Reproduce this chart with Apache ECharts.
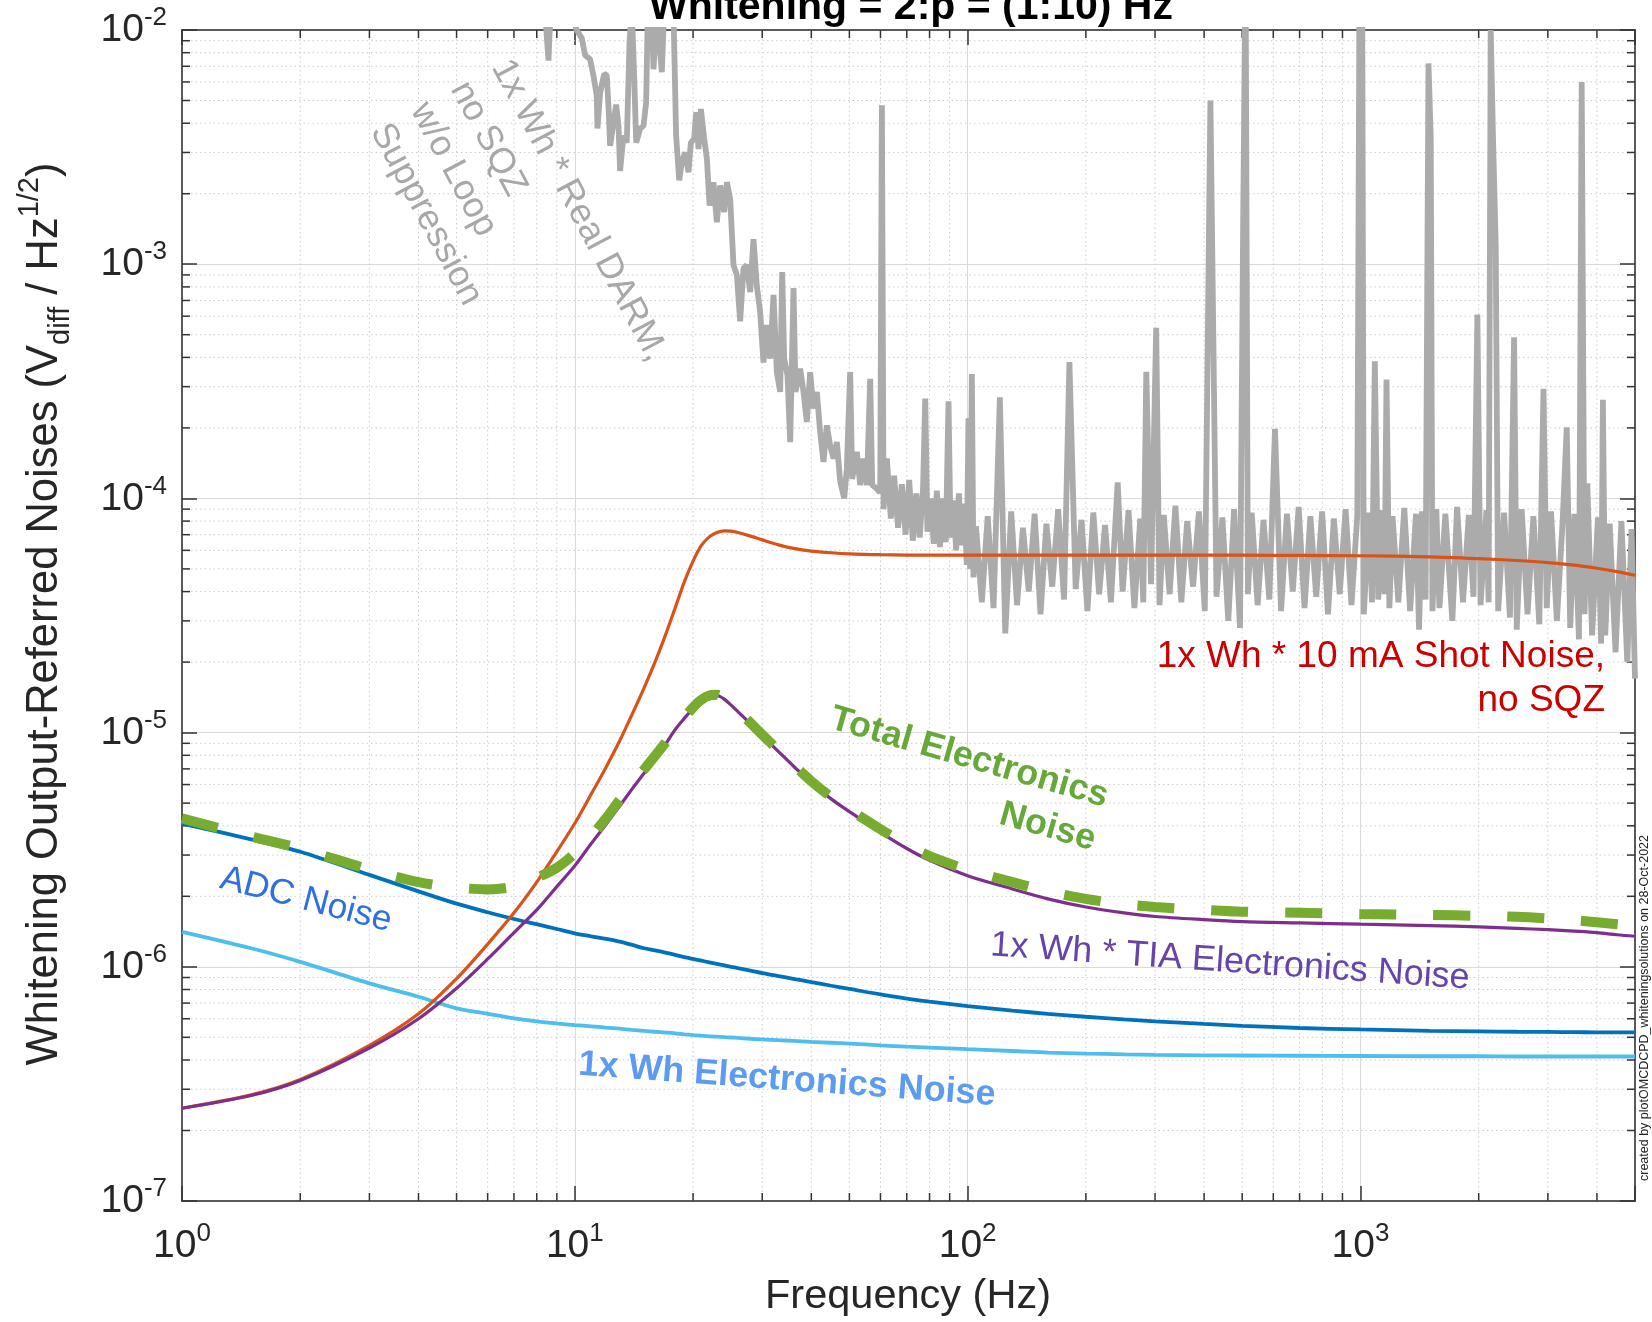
<!DOCTYPE html>
<html><head><meta charset="utf-8">
<script src="https://cdn.jsdelivr.net/npm/echarts@6/dist/echarts.min.js"></script>
<style>html,body{margin:0;padding:0;background:#fff}#c{width:1652px;height:1322px}</style>
</head><body><div id="c"></div>
<script>
// ---------- DATA ----------
const freq = [1, 1.5, 2, 3, 4, 5, 6, 7, 8, 9, 10, 11, 12, 13, 14, 15, 16, 17, 18, 19, 20, 21, 22, 23, 24, 25, 26, 28, 30, 33, 36, 40, 45, 50, 60, 70, 80, 100, 130, 160, 200, 250, 300, 400, 500, 700, 1000, 1500, 2000, 2500, 3000, 3500, 4000, 4500, 5000];

const shotNoise = [2.49e-7, 2.84e-7, 3.3e-7, 4.62e-7, 6.3e-7, 8.9e-7, 1.25e-6, 1.7e-6, 2.3e-6, 3.1e-6, 4.1e-6, 5.45e-6, 7.1e-6, 9.2e-6, 1.2e-5, 1.55e-5, 2.0e-5, 2.6e-5, 3.4e-5, 4.4e-5, 5.4e-5, 6.3e-5, 6.85e-5, 7.15e-5, 7.27e-5, 7.25e-5, 7.15e-5, 6.9e-5, 6.65e-5, 6.33e-5, 6.12e-5, 5.96e-5, 5.86e-5, 5.8e-5, 5.75e-5, 5.73e-5, 5.72e-5, 5.72e-5, 5.72e-5, 5.72e-5, 5.72e-5, 5.72e-5, 5.72e-5, 5.72e-5, 5.72e-5, 5.71e-5, 5.69e-5, 5.63e-5, 5.53e-5, 5.43e-5, 5.32e-5, 5.19e-5, 5.03e-5, 4.87e-5, 4.7e-5];

const tiaNoise = [2.49e-7, 2.82e-7, 3.27e-7, 4.5e-7, 6.0e-7, 8.1e-7, 1.08e-6, 1.4e-6, 1.75e-6, 2.2e-6, 2.7e-6, 3.35e-6, 4.05e-6, 4.85e-6, 5.75e-6, 6.7e-6, 7.75e-6, 8.9e-6, 1.03e-5, 1.15e-5, 1.27e-5, 1.37e-5, 1.43e-5, 1.44e-5, 1.39e-5, 1.31e-5, 1.23e-5, 1.09e-5, 9.7e-6, 8.3e-6, 7.2e-6, 6.1e-6, 5.2e-6, 4.6e-6, 3.75e-6, 3.2e-6, 2.85e-6, 2.45e-6, 2.15e-6, 1.95e-6, 1.8e-6, 1.7e-6, 1.64e-6, 1.59e-6, 1.56e-6, 1.54e-6, 1.52e-6, 1.5e-6, 1.48e-6, 1.46e-6, 1.44e-6, 1.42e-6, 1.4e-6, 1.37e-6, 1.35e-6];

const adcNoise = [4.09e-6, 3.5e-6, 3.1e-6, 2.47e-6, 2.1e-6, 1.86e-6, 1.71e-6, 1.6e-6, 1.52e-6, 1.45e-6, 1.39e-6, 1.35e-6, 1.315e-6, 1.28e-6, 1.24e-6, 1.2e-6, 1.175e-6, 1.15e-6, 1.125e-6, 1.1e-6, 1.08e-6, 1.062e-6, 1.045e-6, 1.029e-6, 1.014e-6, 1.0e-6, 9.87e-7, 9.63e-7, 9.4e-7, 9.13e-7, 8.89e-7, 8.6e-7, 8.3e-7, 8.05e-7, 7.62e-7, 7.32e-7, 7.1e-7, 6.8e-7, 6.5e-7, 6.3e-7, 6.12e-7, 5.96e-7, 5.85e-7, 5.7e-7, 5.6e-7, 5.48e-7, 5.4e-7, 5.33e-7, 5.3e-7, 5.28e-7, 5.27e-7, 5.26e-7, 5.25e-7, 5.25e-7, 5.25e-7];

const whElecNoise = [1.41e-6, 1.2e-6, 1.05e-6, 8.5e-7, 7.45e-7, 6.65e-7, 6.3e-7, 6.02e-7, 5.85e-7, 5.73e-7, 5.64e-7, 5.57e-7, 5.5e-7, 5.44e-7, 5.38e-7, 5.33e-7, 5.28e-7, 5.24e-7, 5.2e-7, 5.15e-7, 5.11e-7, 5.08e-7, 5.05e-7, 5.03e-7, 5.01e-7, 4.99e-7, 4.97e-7, 4.93e-7, 4.9e-7, 4.86e-7, 4.83e-7, 4.78e-7, 4.74e-7, 4.7e-7, 4.62e-7, 4.56e-7, 4.52e-7, 4.45e-7, 4.37e-7, 4.3e-7, 4.26e-7, 4.23e-7, 4.21e-7, 4.19e-7, 4.18e-7, 4.17e-7, 4.16e-7, 4.15e-7, 4.15e-7, 4.14e-7, 4.14e-7, 4.14e-7, 4.14e-7, 4.14e-7, 4.14e-7];

const totalElecNoise = [4.3e-6, 3.6e-6, 3.2e-6, 2.6e-6, 2.3e-6, 2.18e-6, 2.14e-6, 2.2e-6, 2.4e-6, 2.65e-6, 3.05e-6, 3.6e-6, 4.3e-6, 5.15e-6, 6.05e-6, 6.95e-6, 7.95e-6, 9.05e-6, 1.04e-5, 1.16e-5, 1.28e-5, 1.38e-5, 1.44e-5, 1.45e-5, 1.4e-5, 1.32e-5, 1.24e-5, 1.1e-5, 9.8e-6, 8.4e-6, 7.3e-6, 6.2e-6, 5.3e-6, 4.7e-6, 3.87e-6, 3.32e-6, 2.97e-6, 2.6e-6, 2.3e-6, 2.1e-6, 1.95e-6, 1.85e-6, 1.8e-6, 1.75e-6, 1.72e-6, 1.7e-6, 1.68e-6, 1.665e-6, 1.65e-6, 1.635e-6, 1.61e-6, 1.58e-6, 1.55e-6, 1.52e-6, 1.49e-6];

// measured DARM spectrum [Hz, V/rtHz]
const darmSpectrum = [
 [7.0, 3.0e-2], [8.40, 1.2e-2], [8.57, 7.4e-3], [8.69, 1.3e-2], [9.36, 2.0e-2], [10.08, 1.01e-2], [10.42, 9.2e-3], [10.62, 7.8e-3],
 [10.94, 7.5e-3], [11.15, 6.4e-3], [11.37, 5.25e-3], [11.42, 3.8e-3], [11.60, 5.4e-3], [11.88, 6.5e-3], [12.06, 6.4e-3], [12.20, 4.5e-3],
 [12.30, 3.2e-3], [12.54, 4.0e-3], [12.74, 4.8e-3], [12.92, 3.9e-3], [13.04, 2.5e-3], [13.30, 3.55e-3], [13.56, 3.3e-3], [13.78, 8.9e-3],
 [13.97, 1.2e-2], [14.16, 6.4e-3], [14.33, 3.3e-3], [14.67, 3.8e-3], [14.96, 3.9e-3], [15.19, 4.9e-3], [15.34, 1.2e-2], [15.70, 1.2e-2],
 [15.86, 6.8e-3], [16.17, 1.2e-2], [16.65, 6.6e-3], [16.88, 1.2e-2], [17.83, 1.2e-2], [18.11, 3.55e-3], [18.44, 2.28e-3], [18.73, 2.73e-3],
 [19.10, 3.0e-3], [19.47, 2.47e-3], [19.74, 3.3e-3], [20.13, 3.43e-3], [20.37, 4.46e-3], [20.65, 3.1e-3], [20.94, 4.6e-3], [21.35, 3.43e-3],
 [21.69, 2.82e-3], [22.03, 1.78e-3], [22.54, 2.24e-3], [22.99, 1.51e-3], [23.44, 2.17e-3], [24.00, 1.67e-3], [24.38, 2.24e-3], [24.86, 1.9e-3],
 [25.35, 9.9e-4], [25.85, 9.0e-4], [26.36, 5.7e-4], [26.88, 9.6e-4], [27.41, 9.9e-4], [27.95, 7.6e-4], [28.50, 1.28e-3], [29.06, 8.1e-4],
 [29.64, 6.25e-4], [30.22, 3.8e-4], [30.82, 5.5e-4], [31.43, 3.95e-4], [32.05, 7.4e-4], [32.68, 3.46e-4], [33.33, 2.85e-4], [33.72, 9.25e-4],
 [34.12, 3.95e-4], [34.79, 3.35e-4], [35.34, 1.74e-4], [36.04, 7.9e-4], [36.46, 2.85e-4], [37.47, 3.58e-4], [38.21, 2.85e-4], [38.96, 2.12e-4],
 [39.73, 3.46e-4], [40.52, 2.42e-4], [41.32, 2.85e-4], [42.13, 1.92e-4], [42.96, 1.43e-4], [43.81, 2.05e-4], [44.68, 1.68e-4], [45.56, 1.48e-4],
 [46.46, 1.74e-4], [47.38, 1.18e-4], [48.51, 1.0e-4], [49.26, 1.34e-4], [50.23, 3.46e-4], [50.82, 1.21e-4], [52.24, 1.58e-4], [53.27, 1.14e-4],
 [54.33, 1.48e-4], [55.40, 1.14e-4], [56.49, 3.24e-4], [57.16, 1.14e-4], [58.75, 1.1e-4], [59.91, 1.06e-4], [60.50, 4.77e-3], [61.09, 9.0e-5],
 [62.29, 1.48e-4], [63.76, 8.2e-5], [65.0, 1.25e-4], [66.5, 7.5e-5], [68.0, 1.15e-4], [69.5, 7.0e-5], [71.0, 1.2e-4], [72.5, 6.6e-5],
 [74.0, 1.05e-4], [75.5, 6.8e-5], [77.0, 1.1e-4], [78.0, 2.67e-4], [79.0, 7.2e-5], [80.5, 1.0e-4], [82.0, 6.4e-5], [83.5, 1.08e-4],
 [85.0, 6.2e-5], [86.5, 1.0e-4], [88.0, 6.5e-5], [89.4, 2.6e-4], [90.5, 6.8e-5], [92.0, 9.8e-5], [93.5, 6.0e-5], [95.0, 1.05e-4],
 [96.5, 6.3e-5], [98.0, 9.5e-5], [99.5, 5.2e-5], [100.5, 2.2e-4], [101.5, 5.0e-5], [102.5, 3.4e-4], [103.5, 4.6e-5],
 [105, 7.6e-5], [108.7, 3.6e-5], [112.5, 8.4e-5], [116.4, 3.4e-5], [120.8, 2.7e-4], [124.7, 2.65e-5], [129.1, 8.8e-5], [133.6, 3.5e-5],
 [138.3, 7.5e-5], [143.1, 4.0e-5], [148.1, 8.6e-5], [153.3, 3.2e-5], [158.7, 7.8e-5], [164.2, 4.2e-5], [170, 9.0e-5], [176, 3.7e-5],
 [181.6, 3.82e-4], [188.4, 4.1e-5], [195, 8.1e-5], [201.8, 3.3e-5], [208.9, 8.7e-5], [216.2, 3.9e-5], [223.8, 7.7e-5], [231.6, 3.6e-5],
 [241, 1.17e-4], [248.1, 4.0e-5], [256.8, 8.9e-5], [265.8, 3.4e-5], [275.1, 8.2e-5], [280, 3.6e-5], [285, 3.47e-4], [293, 4.3e-5],
 [302, 5.35e-4], [308, 3.5e-5], [315.7, 8.5e-5], [326.7, 3.9e-5], [338.1, 9.3e-5], [350, 3.6e-5], [362.2, 8.0e-5], [374.9, 4.2e-5],
 [388, 8.8e-5], [401.6, 3.3e-5], [415, 5.0e-3], [430.2, 3.8e-5], [445.2, 8.3e-5], [460.8, 3.0e-5], [476.9, 9.0e-5], [493.6, 2.8e-5],
 [503, 1.6e-3], [510, 2.0e-2], [517, 3.9e-5], [528.8, 8.7e-5], [547.3, 3.5e-5], [566.4, 8.1e-5], [586.2, 3.7e-5], [606, 1.98e-4],
 [627.9, 3.3e-5], [649.9, 8.6e-5], [672.6, 4.0e-5], [696.2, 9.2e-5], [720.5, 3.4e-5], [745.7, 8.4e-5], [771.8, 3.8e-5], [798.8, 8.8e-5],
 [826.8, 3.2e-5], [855.7, 8.2e-5], [885.7, 3.9e-5], [916.7, 9.0e-5], [948.8, 3.5e-5], [982, 8.5e-5], [995, 2.0e-2], [1010, 2.0e-2],
 [1020, 3.2e-5], [1052, 8.7e-5], [1070, 3.6e-5], [1088, 3.85e-4], [1110, 3.7e-5], [1140, 8.9e-5], [1152, 3.9e-5], [1165, 3.22e-4],
 [1185, 3.4e-5], [1207, 8.4e-5], [1249, 3.6e-5], [1293, 9.1e-5], [1338, 3.3e-5], [1385, 8.6e-5], [1410, 2.75e-5], [1434, 8.8e-5],
 [1465, 3.7e-5], [1490, 7.2e-3], [1510, 3.5e-3], [1525, 3.3e-5], [1560, 9.0e-5], [1589, 3.4e-5], [1645, 8.6e-5], [1714, 3.0e-5],
 [1762, 9.2e-5], [1824, 3.6e-5], [1888, 8.5e-5], [1940, 3.8e-5], [1985, 6.1e-4], [2022, 3.5e-5], [2093, 8.9e-5], [2120, 3.6e-5],
 [2146, 1.0e-2], [2175, 3.5e-3], [2210, 1.2e-3], [2242, 3.3e-5], [2321, 8.7e-5], [2402, 3.1e-5], [2461, 4.88e-4], [2500, 2.75e-5],
 [2573, 9.0e-5], [2663, 3.2e-5], [2756, 8.4e-5], [2853, 2.9e-5], [2924, 2.94e-4], [2980, 3.4e-5], [3056, 8.8e-5], [3163, 3.0e-5],
 [3273, 8.1e-5], [3351, 2.01e-4], [3420, 2.8e-5], [3506, 8.6e-5], [3600, 2.5e-5], [3658, 6.0e-3], [3720, 3.2e-5], [3780, 1.16e-4],
 [3888, 2.6e-5], [4024, 8.3e-5], [4100, 2.4e-5], [4142, 2.64e-4], [4200, 2.6e-5], [4310, 7.8e-5], [4461, 2.2e-5], [4617, 8.0e-5],
 [4779, 2.0e-5], [4900, 7.4e-5], [5000, 1.7e-5]
];

// axis ticks
const xMajorTicks = [1, 10, 100, 1000];
const yMajorTicks = [1e-7, 1e-6, 1e-5, 1e-4, 1e-3, 1e-2];
const xMinorTicks = [2, 3, 4, 5, 6, 7, 8, 9, 20, 30, 40, 50, 60, 70, 80, 90, 200, 300, 400, 500, 600, 700, 800, 900, 2000, 3000, 4000];
const yMinorTicks = [2e-7, 3e-7, 4e-7, 5e-7, 6e-7, 7e-7, 8e-7, 9e-7, 2e-6, 3e-6, 4e-6, 5e-6, 6e-6, 7e-6, 8e-6, 9e-6,
  2e-5, 3e-5, 4e-5, 5e-5, 6e-5, 7e-5, 8e-5, 9e-5, 2e-4, 3e-4, 4e-4, 5e-4, 6e-4, 7e-4, 8e-4, 9e-4,
  2e-3, 3e-3, 4e-3, 5e-3, 6e-3, 7e-3, 8e-3, 9e-3];

// ---------- CHART ----------
const FONT = "'Liberation Sans', Arial, Helvetica, sans-serif";
const X_MIN = 1, X_MAX = 5000, Y_MIN = 1e-7, Y_MAX = 1e-2;
const chart = echarts.init(document.getElementById('c'), null, {renderer: 'canvas'});

const zip = (ys) => freq.map((f, i) => [f, ys[i]]);
function powLabel(v) {
  const e = Math.round(Math.log10(v));
  if (Math.abs(Math.log10(v) - e) > 1e-6) return '';
  return '{b|10}{s|' + e + '}';
}
const tickRich = {
  b: {fontSize: 39, fontFamily: FONT, color: '#262626', lineHeight: 40, verticalAlign: 'bottom'},
  s: {fontSize: 26, fontFamily: FONT, color: '#262626', lineHeight: 26, padding: [0, 0, 19, 0], verticalAlign: 'bottom'}
};
const majorTick = {show: true, inside: true, length: 15, lineStyle: {color: '#333', width: 1.5}};
const axisLine = {show: true, lineStyle: {color: '#5a5a5a', width: 2}};

function minorX(params, api) {
  const v = api.value(0);
  const b = api.coord([v, Y_MIN]);
  const t = api.coord([v, Y_MAX]);
  return {type: 'group', children: [
    {type: 'line', shape: {x1: b[0], y1: b[1], x2: t[0], y2: t[1]}, style: {stroke: '#cdcdcd', lineWidth: 1, lineDash: [1.5, 3]}},
    {type: 'line', shape: {x1: b[0], y1: b[1], x2: b[0], y2: b[1] - 8}, style: {stroke: '#333', lineWidth: 1.5}},
    {type: 'line', shape: {x1: t[0], y1: t[1], x2: t[0], y2: t[1] + 8}, style: {stroke: '#333', lineWidth: 1.5}}
  ]};
}
function minorY(params, api) {
  const v = api.value(1);
  const l = api.coord([X_MIN, v]);
  const r = api.coord([X_MAX, v]);
  return {type: 'group', children: [
    {type: 'line', shape: {x1: l[0], y1: l[1], x2: r[0], y2: r[1]}, style: {stroke: '#cdcdcd', lineWidth: 1, lineDash: [1.5, 3]}},
    {type: 'line', shape: {x1: l[0], y1: l[1], x2: l[0] + 8, y2: l[1]}, style: {stroke: '#333', lineWidth: 1.5}},
    {type: 'line', shape: {x1: r[0], y1: r[1], x2: r[0] - 8, y2: r[1]}, style: {stroke: '#333', lineWidth: 1.5}}
  ]};
}

function txt(x, y, text, opt) {
  return Object.assign({type: 'text', x: x, y: y, z: 100, silent: true,
    style: Object.assign({text: text, fontFamily: FONT, align: 'center', verticalAlign: 'middle'}, opt.style)}, opt.el || {});
}
const deg = Math.PI / 180;

const option = {
  animation: false,
  backgroundColor: '#ffffff',
  grid: {left: 182, top: 30, right: 17, bottom: 121, containLabel: false},
  xAxis: [
    {type: 'log', logBase: 10, min: X_MIN, max: X_MAX, position: 'bottom',
     axisLine: axisLine, axisTick: majorTick,
     axisLabel: {formatter: powLabel, rich: tickRich, margin: 25, color: '#262626'},
     splitLine: {show: true, lineStyle: {color: '#dadada', width: 1}}, minorTick: {show: false}},
    {type: 'log', logBase: 10, min: X_MIN, max: X_MAX, position: 'top',
     axisLine: axisLine, axisTick: majorTick, axisLabel: {show: false}, splitLine: {show: false}}
  ],
  yAxis: [
    {type: 'log', logBase: 10, min: Y_MIN, max: Y_MAX, position: 'left',
     axisLine: axisLine, axisTick: majorTick,
     axisLabel: {formatter: powLabel, rich: tickRich, margin: 15, color: '#262626'},
     splitLine: {show: true, lineStyle: {color: '#dadada', width: 1}}},
    {type: 'log', logBase: 10, min: Y_MIN, max: Y_MAX, position: 'right',
     axisLine: axisLine, axisTick: majorTick, axisLabel: {show: false}, splitLine: {show: false}}
  ],
  series: [
    {type: 'custom', name: 'xminor', renderItem: minorX, data: xMinorTicks.map(v => [v, Y_MIN]), encode: {x: 0, y: 1}, z: 1, silent: true, clip: false},
    {type: 'custom', name: 'yminor', renderItem: minorY, data: yMinorTicks.map(v => [X_MIN, v]), encode: {x: 0, y: 1}, z: 1, silent: true, clip: false},
    {type: 'line', name: 'DARM', data: darmSpectrum, showSymbol: false, symbol: 'none', z: 3, clip: true,
     lineStyle: {color: '#ababab', width: 5.8, join: 'bevel'}},
    {type: 'line', name: 'Wh Electronics', data: zip(whElecNoise), showSymbol: false, symbol: 'none', smooth: 0.3, z: 4,
     lineStyle: {color: '#4dbeee', width: 3.8}},
    {type: 'line', name: 'ADC', data: zip(adcNoise), showSymbol: false, symbol: 'none', smooth: 0.3, z: 4,
     lineStyle: {color: '#0072bd', width: 3.8}},
    {type: 'line', name: 'Shot', data: zip(shotNoise), showSymbol: false, symbol: 'none', smooth: 0.3, z: 5,
     lineStyle: {color: '#d95319', width: 3.2}},
    {type: 'line', name: 'TIA', data: zip(tiaNoise), showSymbol: false, symbol: 'none', smooth: 0.3, z: 5,
     lineStyle: {color: '#7e2f8e', width: 3.2}},
    {type: 'line', name: 'Total', data: zip(totalElecNoise), showSymbol: false, symbol: 'none', smooth: 0.3, z: 6,
     lineStyle: {color: '#77ac30', width: 10, type: [37, 37], cap: 'butt'}}
  ],
  graphic: [
    txt(911, 8, 'Whitening = 2:p = (1:10) Hz', {style: {fontSize: 41, fontWeight: 'bold', fill: '#000'}}),
    txt(45, 614, '{m|Whitening Output-Referred Noises (V}{sub|diff}{m| / Hz}{sup|1/2}{m|)}', {
      el: {rotation: Math.PI / 2},
      style: {fill: '#262626', rich: {
        m: {fontSize: 43.5, fontFamily: FONT, lineHeight: 60, verticalAlign: 'middle', fill: '#262626'},
        sub: {fontSize: 29, fontFamily: FONT, lineHeight: 29, verticalAlign: 'bottom', fill: '#262626'},
        sup: {fontSize: 29, fontFamily: FONT, lineHeight: 29, verticalAlign: 'top', fill: '#262626'}
      }}}),
    txt(908, 1297, 'Frequency (Hz)', {style: {fontSize: 41.5, fill: '#262626'}}),
    txt(306, 900, 'ADC Noise', {el: {rotation: -14.5 * deg}, style: {fontSize: 35.5, fill: '#2f6fdf'}}),
    txt(787, 1080, '1x Wh Electronics Noise', {el: {rotation: -4.2 * deg}, style: {fontSize: 36, fontWeight: 'bold', fill: '#5c9cf0'}}),
    txt(1230, 962, '1x Wh * TIA Electronics Noise', {el: {rotation: -4 * deg}, style: {fontSize: 36, fill: '#6644aa'}}),
    txt(1101, 819, 'Total Electronics\nNoise', {el: {rotation: -16 * deg}, style: {fontSize: 36, fontWeight: 'bold', fill: '#66a83a', align: 'right', lineHeight: 45}}),
    txt(1605, 679, '1x Wh * 10 mA Shot Noise,\nno SQZ', {style: {fontSize: 37, fill: '#cc0000', align: 'right', lineHeight: 44}}),
    txt(500, 62, '1x Wh * Real DARM,', {el: {rotation: -62 * deg}, style: {fontSize: 36, fill: '#a8a8a8', align: 'left'}}),
    txt(459, 84, 'no SQZ', {el: {rotation: -62 * deg}, style: {fontSize: 36, fill: '#a8a8a8', align: 'left'}}),
    txt(419, 105, 'w/o Loop', {el: {rotation: -62 * deg}, style: {fontSize: 36, fill: '#a8a8a8', align: 'left'}}),
    txt(379, 126, 'Suppression', {el: {rotation: -62 * deg}, style: {fontSize: 36, fill: '#a8a8a8', align: 'left'}}),
    txt(1645, 1008, 'created by plotOMCDCPD_whiteningsolutions on 28-Oct-2022', {el: {rotation: Math.PI / 2}, style: {fontSize: 12.5, fill: '#222'}})
  ]
};
chart.setOption(option);
</script>
</body></html>
